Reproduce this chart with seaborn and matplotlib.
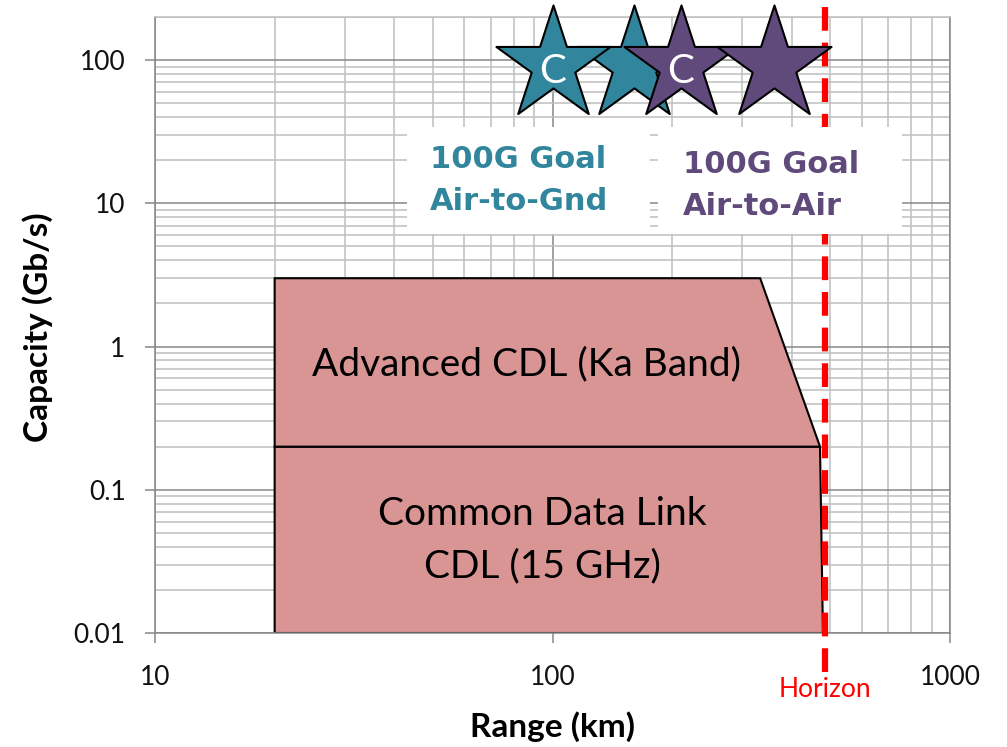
import matplotlib
matplotlib.use("Agg")
import matplotlib.pyplot as plt
import seaborn as sns
from matplotlib.patches import Rectangle
from matplotlib.ticker import FixedLocator, FixedFormatter, LogLocator, NullFormatter

# Link capability envelopes: corner points (range in km, capacity in Gb/s)
cdl_range = [20, 479, 471, 20]
cdl_capacity = [0.01, 0.01, 0.2, 0.2]
adv_range = [20, 471, 333, 20]
adv_capacity = [0.2, 0.2, 3, 3]

# 100G goals
goal_gnd_range = [100, 160]
goal_gnd_capacity = [93, 93]
goal_gnd_marks = ["C", ""]
goal_air_range = [210, 360]
goal_air_capacity = [93, 93]
goal_air_marks = ["C", ""]

# Radio horizon
horizon_km = 485

x_ticks = [10, 100, 1000]
x_tick_labels = ["10", "100", "1000"]
y_ticks = [0.01, 0.1, 1, 10, 100]
y_tick_labels = ["0.01", "0.1", "1", "10", "100"]

TEAL = "#31859C"
PURPLE = "#604A7B"
LINK_FILL = "#D99594"
MAJOR_GRID = "#878787"
MINOR_GRID = "#BFBFBF"

sns.set_theme(style="white")
plt.rcParams["font.family"] = ["Lato", "DejaVu Sans"]

W, H = 1007, 747
fig = plt.figure(figsize=(W / 100, H / 100), dpi=100)
ax = fig.add_axes([155 / W, 1 - 633 / H, 795 / W, 616 / H])

ax.set_xscale("log")
ax.set_yscale("log")
ax.set_xlim(10, 1000)
ax.set_ylim(0.01, 200)

# grid
ax.xaxis.set_minor_locator(LogLocator(base=10, subs=range(2, 10), numticks=20))
ax.yaxis.set_minor_locator(LogLocator(base=10, subs=range(2, 10), numticks=20))
ax.xaxis.set_minor_formatter(NullFormatter())
ax.yaxis.set_minor_formatter(NullFormatter())
ax.grid(which="minor", color=MINOR_GRID, linewidth=1.1, zorder=0)
ax.grid(which="major", color=MAJOR_GRID, linewidth=1.1, zorder=0)
ax.set_axisbelow(True)

ax.xaxis.set_major_locator(FixedLocator(x_ticks))
ax.xaxis.set_major_formatter(FixedFormatter(x_tick_labels))
ax.yaxis.set_major_locator(FixedLocator(y_ticks))
ax.yaxis.set_major_formatter(FixedFormatter(y_tick_labels))
ax.tick_params(which="major", direction="out", length=7.2, width=1.1,
               color=MAJOR_GRID, labelsize=19, labelcolor="#111111")
ax.tick_params(axis="y", which="major", left=True, pad=14)
ax.tick_params(axis="x", which="major", bottom=True, pad=16)
ax.tick_params(which="minor", length=0)

for side in ["left", "bottom", "right"]:
    ax.spines[side].set_color(MAJOR_GRID)
    ax.spines[side].set_linewidth(1.1)
ax.spines["top"].set_color(MINOR_GRID)
ax.spines["top"].set_linewidth(1.1)

# link envelopes
ax.fill(cdl_range, cdl_capacity, facecolor=LINK_FILL, edgecolor="black",
        linewidth=1.5, zorder=2)
ax.fill(adv_range, adv_capacity, facecolor=LINK_FILL, edgecolor="black",
        linewidth=1.5, zorder=2)

ax.text(0.467, 0.419, "Advanced CDL (Ka Band)", transform=ax.transAxes,
        ha="center", va="baseline", fontsize=28, color="black", zorder=3)
ax.text(0.487, 0.175, "Common Data Link", transform=ax.transAxes,
        ha="center", va="baseline", fontsize=28, color="black", zorder=3)
ax.text(0.487, 0.091, "CDL (15 GHz)", transform=ax.transAxes,
        ha="center", va="baseline", fontsize=28, color="black", zorder=3)

# horizon line
ax.plot([horizon_km, horizon_km], [235, 0.0052], color="#FF0000",
        linewidth=4.5, linestyle=(0, (3.8, 1.9)), clip_on=False, zorder=3)
ax.text(horizon_km, -0.0925, "Horizon", transform=ax.get_xaxis_transform(),
        ha="center", va="center", fontsize=19, color="#FF0000")

# goal stars (later points drawn underneath earlier ones within a series)
star_size = 86.4 ** 2
sns.scatterplot(x=goal_gnd_range[::-1], y=goal_gnd_capacity[::-1], ax=ax,
                marker="*", s=star_size, color=TEAL, edgecolor="black",
                linewidth=1.5, clip_on=False, zorder=4, legend=False)
sns.scatterplot(x=goal_air_range, y=goal_air_capacity, ax=ax,
                marker="*", s=star_size, color=PURPLE, edgecolor="black",
                linewidth=1.5, clip_on=False, zorder=4.5, legend=False)
for xs, ys, marks, z in [(goal_gnd_range, goal_gnd_capacity, goal_gnd_marks, 4.2),
                         (goal_air_range, goal_air_capacity, goal_air_marks, 4.7)]:
    for x, y, m in zip(xs, ys, marks):
        if m:
            ax.annotate(m, (x, y), xytext=(0, -13), textcoords="offset points",
                        ha="center", va="baseline", fontsize=29, color="white",
                        zorder=z, annotation_clip=False)

# goal captions on white panels
for x0, x1 in [(0.317, 0.623), (0.633, 0.940)]:
    ax.add_patch(Rectangle((x0, 0.648), x1 - x0, 0.821 - 0.648,
                           transform=ax.transAxes, facecolor="white",
                           edgecolor="none", zorder=5, clip_on=False))
cap_font = dict(family="DejaVu Sans", weight="bold", fontsize=22,
                ha="left", va="baseline", transform=ax.transAxes, zorder=6)
ax.text(0.346, 0.755, "100G Goal", color=TEAL, **cap_font)
ax.text(0.346, 0.687, "Air-to-Gnd", color=TEAL, **cap_font)
ax.text(0.664, 0.747, "100G Goal", color=PURPLE, **cap_font)
ax.text(0.664, 0.679, "Air-to-Air", color=PURPLE, **cap_font)

# axis titles
fig.text(552 / W, 1 - 737 / H, "Range (km)", ha="center", va="baseline",
         fontsize=24, fontweight="bold", color="black")
fig.text(38 / W, 1 - 327 / H, "Capacity (Gb/s)", ha="center", va="center",
         rotation=90, fontsize=24, fontweight="bold", color="black")

fig.savefig("out.png", dpi=100)
